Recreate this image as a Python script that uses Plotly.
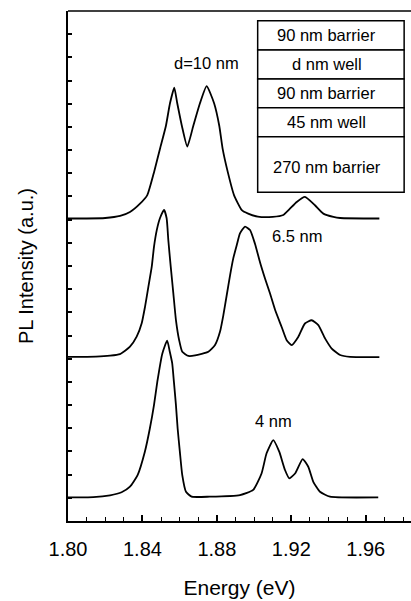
import plotly.graph_objects as go

# ---------------- data ----------------
energy_10nm = [1.800, 1.810, 1.820, 1.828, 1.8333, 1.8387, 1.8426, 1.8463, 1.8494, 1.8526,
               1.8548, 1.8571, 1.8587, 1.8612, 1.8641, 1.8673, 1.8709, 1.8745, 1.8785,
               1.8813, 1.8831, 1.8858, 1.8892, 1.8934, 1.8968, 1.902, 1.910, 1.9157,
               1.9190, 1.9229, 1.9273, 1.9327, 1.9372, 1.9426, 1.9462, 1.9673]
pl_10nm = [13.05, 13.05, 13.07, 13.16, 13.33, 13.69, 14.06, 15.07, 16.05, 17.04,
           18.02, 18.69, 18.02, 17.04, 16.15, 17.04, 18.02, 18.76, 18.02,
           17.04, 16.05, 15.07, 14.06, 13.41, 13.26, 13.13, 13.12, 13.20,
           13.45, 13.76, 13.98, 13.62, 13.26, 13.12, 13.07, 13.05]

energy_6p5nm = [1.800, 1.815, 1.8226, 1.8279, 1.8333, 1.8369, 1.8396, 1.8414, 1.8432,
                1.8450, 1.8462, 1.8477, 1.8494, 1.8516, 1.8530, 1.8539, 1.8552, 1.8566,
                1.8580, 1.8597, 1.8614, 1.8647, 1.8683, 1.8754, 1.8790, 1.8817, 1.8835,
                1.8853, 1.8871, 1.8888, 1.8907, 1.8924, 1.8951, 1.8978, 1.9005, 1.9032,
                1.9059, 1.9086, 1.9113, 1.9148, 1.9175, 1.9202, 1.9237, 1.9273, 1.9309,
                1.9345, 1.9381, 1.9417, 1.9462, 1.9516, 1.9673]
pl_6p5nm = [7.08, 7.09, 7.13, 7.20, 7.52, 7.95, 8.53, 9.25, 10.11,
            10.97, 11.83, 12.55, 13.06, 13.42, 13.06, 12.12, 10.97, 9.82,
            8.67, 7.81, 7.30, 7.12, 7.14, 7.30, 7.59, 8.17, 8.89,
            9.75, 10.61, 11.33, 11.91, 12.41, 12.70, 12.55, 11.95, 11.15,
            10.45, 9.80, 9.10, 8.37, 7.80, 7.59, 7.94, 8.52, 8.66,
            8.45, 7.88, 7.44, 7.16, 7.08, 7.07]

energy_4nm = [1.800, 1.8136, 1.8226, 1.8288, 1.8333, 1.8374, 1.8413, 1.8440, 1.8462,
              1.8480, 1.8507, 1.8533, 1.8547, 1.8560, 1.8569, 1.8580, 1.8589, 1.8601,
              1.8614, 1.8634, 1.8664, 1.8762, 1.8924, 1.8995, 1.9040, 1.9067, 1.9103,
              1.9135, 1.9166, 1.9189, 1.9220, 1.9261, 1.9291, 1.9318, 1.9354, 1.9408,
              1.9667]
pl_4nm = [1.02, 1.03, 1.11, 1.24, 1.48, 1.98, 2.99, 4.00, 5.00,
          6.01, 7.23, 7.78, 7.30, 6.80, 6.01, 5.00, 4.00, 2.99,
          1.98, 1.26, 1.05, 1.05, 1.12, 1.34, 2.05, 2.92, 3.49,
          2.99, 2.20, 1.84, 2.05, 2.67, 2.34, 1.69, 1.26, 1.05,
          1.02]

curve_labels = ["d=10 nm", "6.5 nm", "4 nm"]
layer_stack = ["90 nm barrier", "d nm well", "90 nm barrier", "45 nm well", "270 nm barrier"]
x_tick_values = [1.80, 1.84, 1.88, 1.92, 1.96]
x_tick_labels = ["1.80", "1.84", "1.88", "1.92", "1.96"]
x_title = "Energy (eV)"
y_title = "PL Intensity (a.u.)"

# ---------------- figure ----------------
FONT = "Liberation Sans, Arial, sans-serif"
fig = go.Figure()
for ex, ey in [(energy_10nm, pl_10nm), (energy_6p5nm, pl_6p5nm), (energy_4nm, pl_4nm)]:
    fig.add_trace(go.Scatter(x=ex, y=ey, mode="lines",
                             line=dict(color="black", width=1.8, shape="spline", smoothing=0.5),
                             showlegend=False, hoverinfo="skip"))

# curve labels
label_pos = [(0.4044, 0.8975), (0.6676, 0.5588), (0.5977, 0.1967)]
for txt, (px, py) in zip(curve_labels, label_pos):
    fig.add_annotation(text=txt, x=px, y=py, xref="paper", yref="paper",
                       showarrow=False, font=dict(family=FONT, size=16.5, color="black"),
                       xanchor="center", yanchor="middle")

# top frame line
fig.add_shape(type="line", xref="paper", yref="paper", x0=0, x1=1, y0=1, y1=1,
              line=dict(color="black", width=1.6))

# inset layer-stack box
box_x0, box_x1 = 0.553, 0.980
row_edges = [0.981, 0.9235, 0.8667, 0.8104, 0.7535, 0.6445]
for i in range(len(layer_stack)):
    fig.add_shape(type="rect", xref="paper", yref="paper",
                  x0=box_x0, x1=box_x1, y0=row_edges[i + 1], y1=row_edges[i],
                  line=dict(color="black", width=1.5), fillcolor="white", layer="above")
    fig.add_annotation(text=layer_stack[i], x=0.755,
                       y=(row_edges[i] + row_edges[i + 1]) / 2 + (-0.005 if i == 4 else 0),
                       xref="paper", yref="paper", showarrow=False,
                       font=dict(family=FONT, size=16.5, color="black"),
                       xanchor="center", yanchor="middle")

fig.update_layout(
    width=411, height=601,
    margin=dict(l=68, r=0, t=11, b=80, pad=0, autoexpand=False),
    paper_bgcolor="white", plot_bgcolor="white",
    font=dict(family=FONT, color="black"),
    xaxis=dict(range=[1.80, 1.9843], tickvals=x_tick_values, ticktext=x_tick_labels,
               ticks="inside", ticklen=6, tickwidth=1.5, tickcolor="black",
               showline=True, linewidth=2, linecolor="black", mirror=False,
               showgrid=False, zeroline=False, automargin=False,
               ticklabelstandoff=9,
               tickfont=dict(family=FONT, size=20, color="black"),
               minor=dict(dtick=0.01, tick0=1.80, ticks="inside", ticklen=4,
                          tickwidth=1, tickcolor="black", showgrid=False),
               title=dict(text=x_title, font=dict(family=FONT, size=21, color="black"),
                          standoff=21)),
    yaxis=dict(range=[0, 22], tick0=0, dtick=1, ticks="inside", ticklen=4, tickwidth=1.5,
               tickcolor="black", showticklabels=False, automargin=False,
               showline=True, linewidth=2, linecolor="black",
               showgrid=False, zeroline=False,
               title=dict(text=y_title, font=dict(family=FONT, size=20, color="black"),
                          standoff=27)),
)

fig.write_html("out.html", config={"displayModeBar": False},
               post_script="document.body.style.margin='0';document.body.style.padding='0';"
                           "document.body.style.overflow='hidden';")
